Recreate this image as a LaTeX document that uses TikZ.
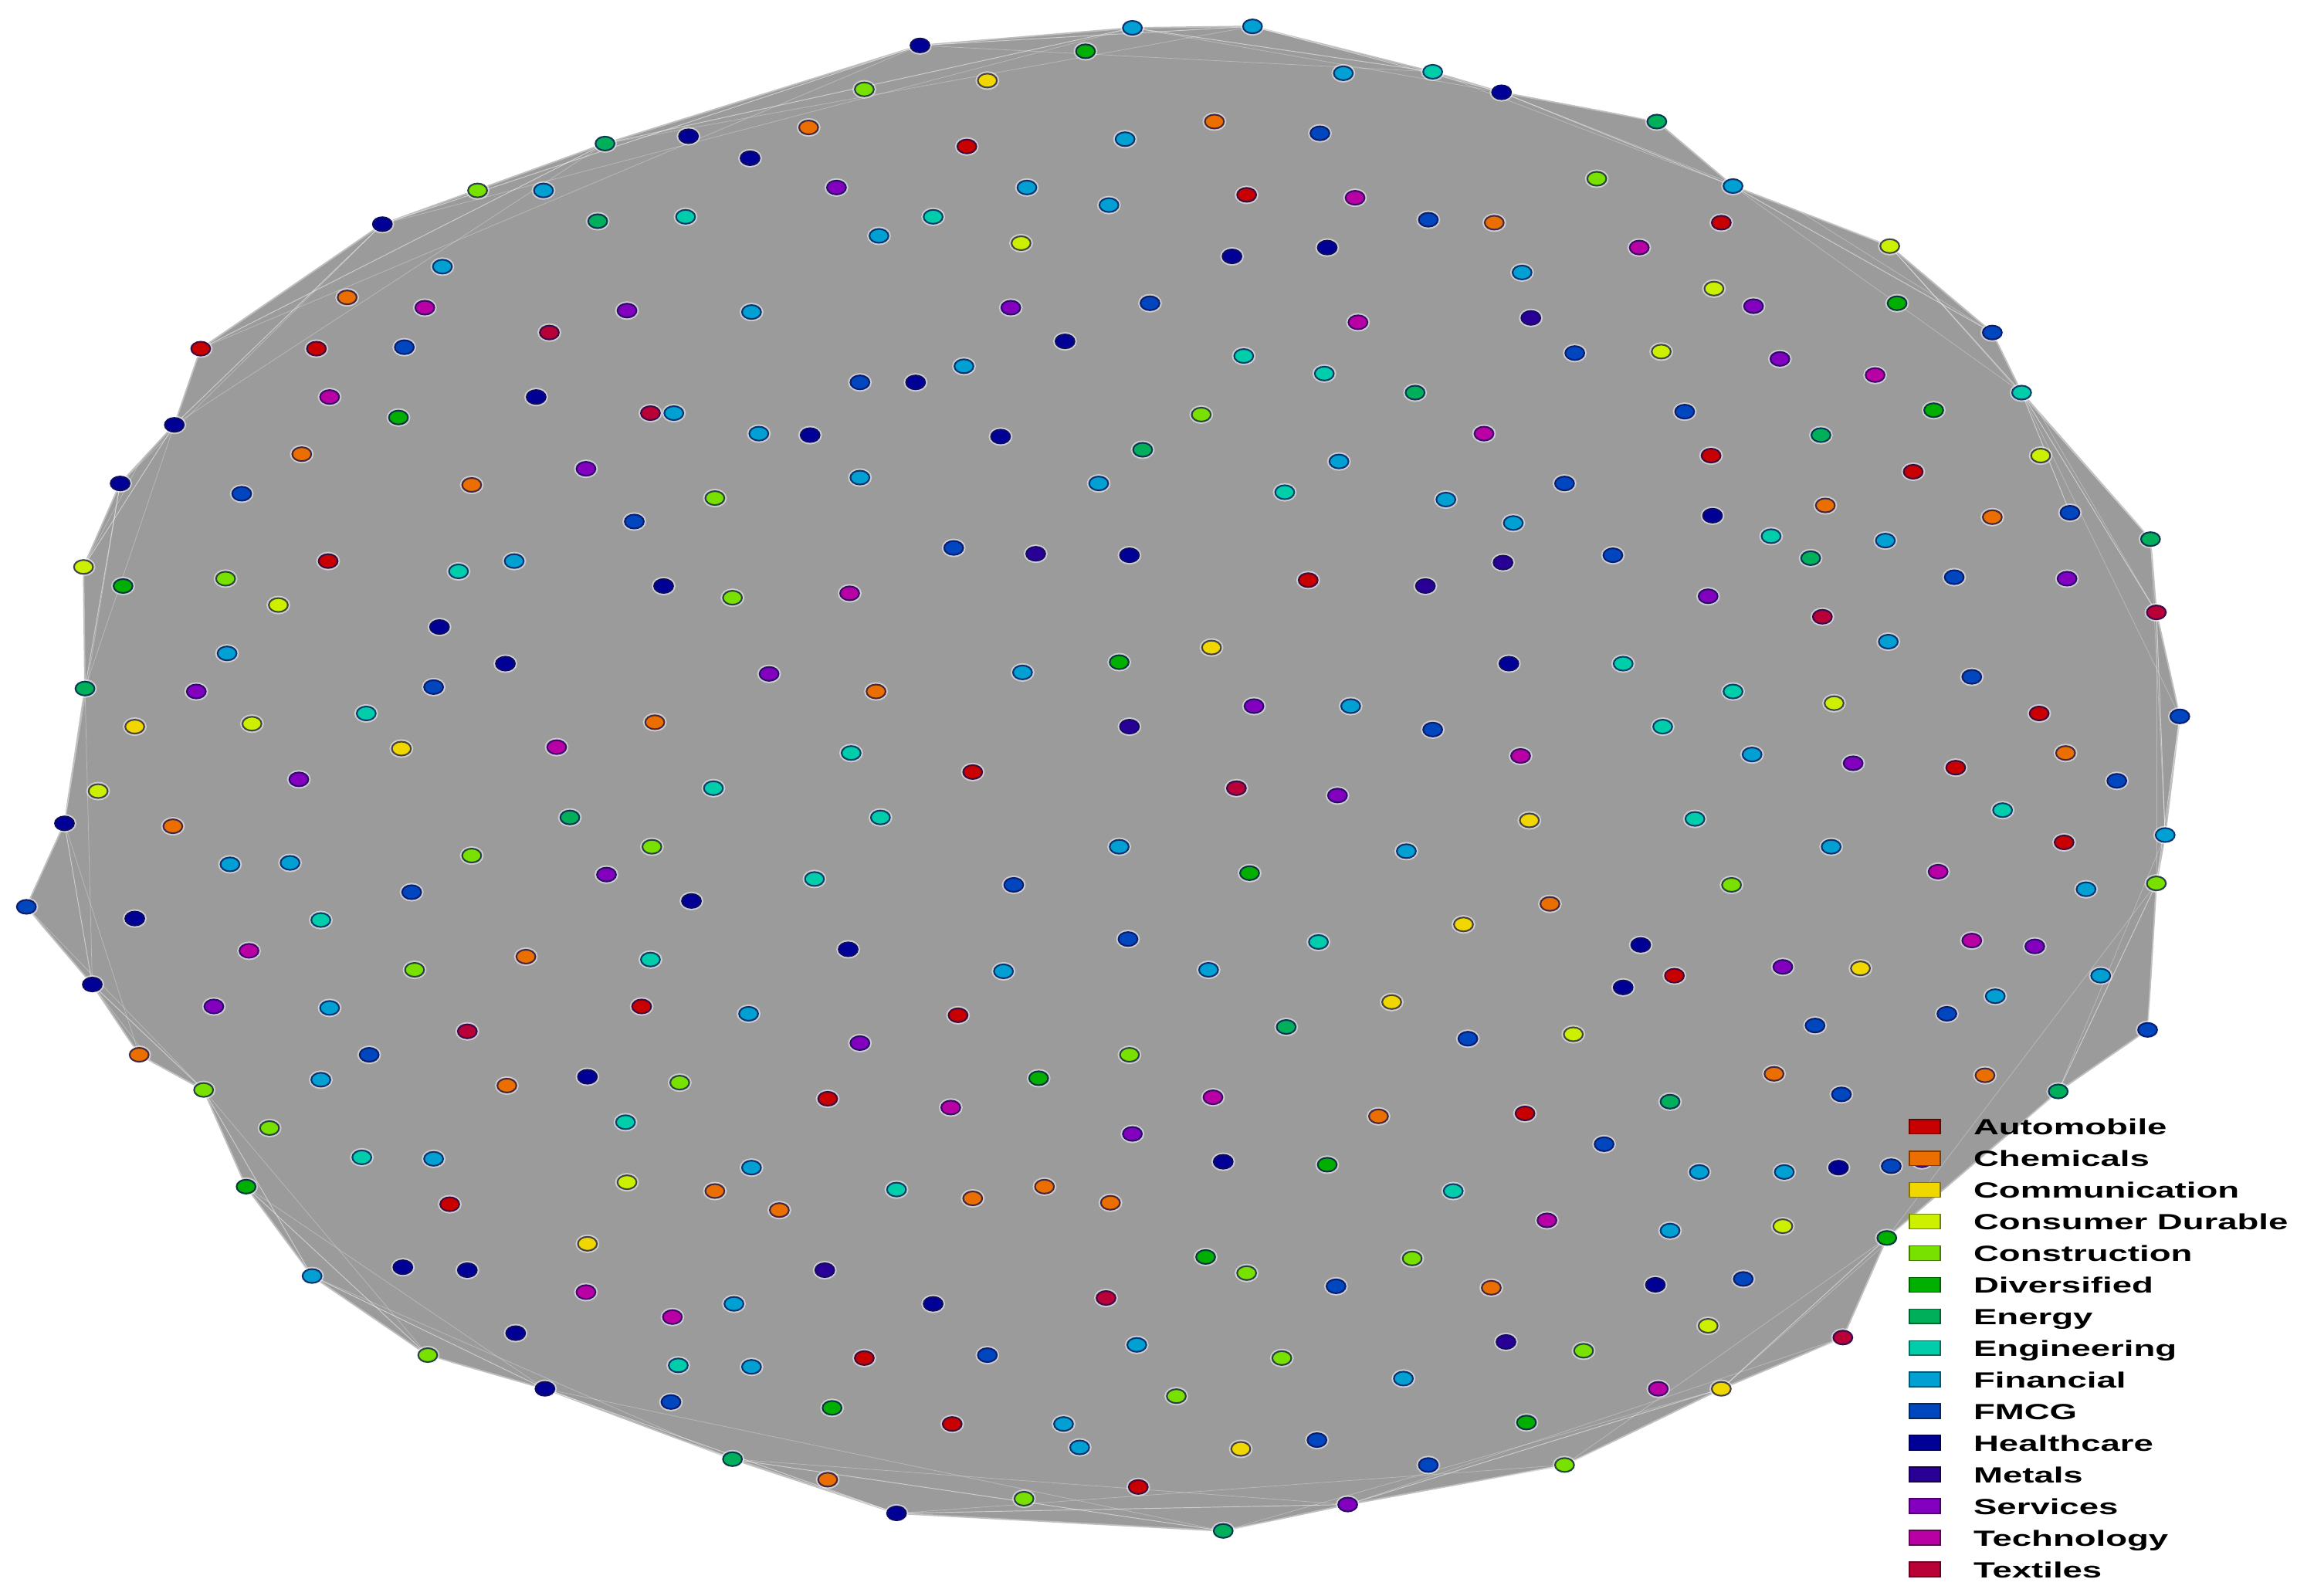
\documentclass[tikz,border=0pt]{standalone}
\usepackage{fontspec}
\usepackage{graphicx}
\setmainfont{Liberation Sans}
\usetikzlibrary{shapes.geometric,backgrounds}
\definecolor{cAut}{RGB}{200,0,0}
\definecolor{cChe}{RGB}{235,110,0}
\definecolor{cCom}{RGB}{240,215,0}
\definecolor{cCdu}{RGB}{205,240,0}
\definecolor{cCon}{RGB}{120,225,0}
\definecolor{cDiv}{RGB}{0,175,0}
\definecolor{cEne}{RGB}{0,175,90}
\definecolor{cEng}{RGB}{0,205,170}
\definecolor{cFin}{RGB}{0,160,210}
\definecolor{cFmc}{RGB}{0,70,190}
\definecolor{cHea}{RGB}{0,0,150}
\definecolor{cMet}{RGB}{40,0,150}
\definecolor{cSer}{RGB}{130,0,190}
\definecolor{cTec}{RGB}{185,0,165}
\definecolor{cTex}{RGB}{185,0,55}
\definecolor{netgray}{RGB}{155,155,155}
\definecolor{nodeedge}{RGB}{15,15,85}
\tikzset{
  nd/.style={ellipse, inner sep=0pt, minimum width=13pt, minimum height=9.5pt, line width=1.1pt,
     draw=nodeedge!75!#1, fill=#1, preaction={draw=white, draw opacity=0.5, line width=3.2pt}},
  nAut/.style={nd=cAut}, nChe/.style={nd=cChe}, nCom/.style={nd=cCom}, nCdu/.style={nd=cCdu},
  nCon/.style={nd=cCon}, nDiv/.style={nd=cDiv}, nEne/.style={nd=cEne}, nEng/.style={nd=cEng},
  nFin/.style={nd=cFin}, nFmc/.style={nd=cFmc}, nHea/.style={nd=cHea}, nMet/.style={nd=cMet},
  nSer/.style={nd=cSer}, nTec/.style={nd=cTec}, nTex/.style={nd=cTex},
  fan/.style={draw=white, draw opacity=0.5, line width=0.5pt},
  fanb/.style={draw=white, draw opacity=0.3, line width=0.4pt},
  lgsq/.style={rectangle, inner sep=0pt, minimum width=21pt, minimum height=10pt, line width=1pt, draw=#1!55!black, fill=#1},
  lgtx/.style={anchor=west, inner sep=0pt, text height=11pt, text depth=0pt, font=\fontsize{15}{15}\selectfont\bfseries}
}
\newcommand{\lgtext}[1]{\scalebox{1.6}[1]{#1}}
\begin{document}
\begin{tikzpicture}[x=1pt,y=-1pt]
\useasboundingbox (0,0) rectangle (1568,1089);
% hull nodes
\node[nHea] (h1) at (628,31) {};
\node[nFin] (h2) at (773,19) {};
\node[nFin] (h3) at (855,18) {};
\node[nEng] (h4) at (978,49) {};
\node[nHea] (h5) at (1025,63) {};
\node[nEne] (h6) at (1131,83) {};
\node[nFin] (h7) at (1183,127) {};
\node[nCdu] (h8) at (1290,168) {};
\node[nFmc] (h9) at (1360,227) {};
\node[nEng] (h10) at (1380,268) {};
\node[nFmc] (h11) at (1413,350) {};
\node[nEne] (h12) at (1468,368) {};
\node[nTex] (h13) at (1472,418) {};
\node[nFmc] (h14) at (1488,489) {};
\node[nFin] (h15) at (1478,570) {};
\node[nCon] (h16) at (1472,603) {};
\node[nFmc] (h17) at (1466,703) {};
\node[nEne] (h18) at (1405,745) {};
\node[nDiv] (h19) at (1288,845) {};
\node[nTex] (h20) at (1258,913) {};
\node[nCom] (h21) at (1175,948) {};
\node[nCon] (h22) at (1068,1000) {};
\node[nSer] (h23) at (920,1027) {};
\node[nEne] (h24) at (835,1045) {};
\node[nHea] (h25) at (612,1033) {};
\node[nEne] (h26) at (500,996) {};
\node[nHea] (h27) at (372,948) {};
\node[nCon] (h28) at (292,925) {};
\node[nFin] (h29) at (213,871) {};
\node[nDiv] (h30) at (168,810) {};
\node[nCon] (h31) at (139,744) {};
\node[nChe] (h32) at (95,720) {};
\node[nHea] (h33) at (63,672) {};
\node[nFmc] (h34) at (18,619) {};
\node[nHea] (h35) at (44,562) {};
\node[nEne] (h36) at (58,470) {};
\node[nCdu] (h37) at (57,387) {};
\node[nHea] (h38) at (82,330) {};
\node[nHea] (h39) at (119,290) {};
\node[nAut] (h40) at (137,238) {};
\node[nHea] (h41) at (261,153) {};
\node[nEne] (h42) at (413,98) {};
% interior nodes
\foreach \x/\y/\s [count=\i] in {
741/35/nDiv, 674/55/nCom, 590/61/nCon, 917/50/nFin,
829/83/nChe, 552/87/nChe, 470/93/nHea, 660/100/nAut, 768/95/nFin, 901/91/nFmc, 512/108/nHea,
1090/122/nCon, 571/128/nSer, 701/128/nFin, 851/133/nAut, 925/135/nTec, 326/130/nCon, 371/130/nFin, 757/140/nFin, 637/148/nEng, 468/148/nEng, 408/151/nEne, 975/150/nFmc, 1020/152/nChe, 1175/152/nAut, 600/161/nFin, 697/166/nCdu, 906/169/nHea, 841/175/nHea, 1119/169/nTec,
302/182/nFin, 1039/186/nFin, 237/203/nChe, 290/210/nTec, 428/212/nSer, 513/213/nFin, 690/210/nSer, 785/207/nFmc, 1170/197/nCdu, 1197/209/nSer, 1295/207/nDiv, 927/220/nTec, 1045/217/nMet, 727/233/nHea, 375/227/nTex, 216/238/nAut, 276/237/nFmc, 849/243/nEng, 1075/241/nFmc, 1134/240/nCdu, 658/250/nFin, 587/261/nFmc, 625/261/nHea, 1215/245/nSer, 904/255/nEng, 1280/256/nTec, 225/271/nTec, 366/271/nHea, 444/282/nTex, 460/282/nFin, 966/268/nEne, 272/285/nDiv, 820/283/nCon, 1150/281/nFmc, 1320/280/nDiv, 518/296/nFin, 553/297/nHea, 683/298/nHea, 1013/296/nTec, 1243/297/nEne, 780/307/nEne, 206/310/nChe, 914/315/nFin, 1168/311/nAut, 1393/311/nCdu, 1306/322/nAut, 400/320/nSer, 587/326/nFin, 322/331/nChe, 750/330/nFin, 1068/330/nFmc, 165/337/nFmc, 488/340/nCon, 877/336/nEng, 987/341/nFin, 1246/345/nChe, 1169/352/nHea, 1360/353/nChe, 433/356/nFmc, 1033/357/nFin,
651/374/nFmc, 707/378/nMet, 771/379/nHea, 1209/366/nEng, 1287/369/nFin, 1101/379/nFmc, 224/383/nAut, 351/383/nFin, 313/390/nEng, 1026/384/nMet, 1236/381/nEne, 893/396/nAut, 154/395/nCon, 1334/394/nFmc, 1411/395/nSer, 453/400/nHea, 973/400/nMet, 84/400/nDiv, 580/405/nTec, 500/408/nCon, 190/413/nCdu, 1166/407/nSer, 1244/421/nTex, 300/428/nHea, 1289/438/nFin,
827/442/nCom, 155/446/nFin, 345/453/nHea, 764/452/nDiv, 1030/453/nHea, 1108/453/nEng, 698/459/nFin, 525/460/nSer, 1346/462/nFmc, 134/472/nSer, 296/469/nFmc, 1183/472/nEng, 598/472/nChe, 1252/480/nCdu, 856/482/nSer, 922/482/nFin, 250/487/nEng, 1392/487/nAut, 92/496/nCom, 172/494/nCdu, 447/493/nChe, 771/496/nMet, 978/498/nFmc, 1135/496/nEng, 1410/514/nChe, 380/510/nTec, 274/511/nCom, 581/514/nEng, 1038/516/nTec, 1196/515/nFin, 1445/533/nFmc, 664/527/nAut, 1265/521/nSer, 1335/524/nAut, 204/532/nSer, 487/538/nEng, 844/538/nTex, 913/543/nSer, 67/540/nCdu, 1367/553/nEng, 389/558/nEne, 601/558/nEng, 1044/560/nCom, 1157/559/nEng, 118/564/nChe, 1409/575/nAut, 764/578/nFin, 1250/578/nFin, 445/578/nCon, 322/584/nCon, 157/590/nFin, 198/589/nFin, 960/581/nFin, 853/596/nDiv, 1323/595/nTec, 414/597/nSer, 556/600/nEng, 1182/604/nCon, 692/604/nFmc, 281/609/nFmc, 1424/607/nFin, 472/615/nHea, 1058/617/nChe, 92/627/nHea, 219/628/nEng, 999/631/nCom, 579/648/nHea, 770/641/nFmc, 900/643/nEng, 1120/645/nHea, 1346/642/nTec, 1389/646/nSer, 170/649/nTec, 359/653/nChe, 444/655/nEng, 1434/666/nFin, 685/663/nFin, 825/662/nFin, 1217/660/nSer, 1270/661/nCom, 283/662/nCon, 1143/666/nAut, 1108/674/nHea, 1362/680/nFin, 146/687/nSer, 225/688/nFin, 438/687/nAut, 511/692/nFin, 950/684/nCom, 1329/692/nFmc, 654/693/nAut, 878/701/nEne, 319/704/nTex, 1239/700/nFmc, 1074/706/nCdu, 1002/709/nFmc, 587/712/nSer, 771/720/nCon, 252/720/nFmc, 401/735/nHea, 709/736/nDiv, 219/737/nFin, 464/739/nCon, 1211/733/nChe, 1355/734/nChe, 346/741/nChe, 1257/747/nFmc, 828/749/nTec, 565/750/nAut, 649/756/nTec, 1140/752/nEne, 1041/760/nAut, 941/762/nChe, 184/770/nCon, 427/766/nEng, 773/774/nSer, 1095/781/nFmc, 247/790/nEng, 296/791/nFin, 835/793/nHea, 906/795/nDiv, 513/797/nFin, 1255/797/nHea, 1160/800/nFin, 1218/800/nFin, 428/807/nCdu, 612/812/nEng, 488/813/nChe, 664/818/nChe, 713/810/nChe, 992/813/nEng, 758/821/nChe, 307/822/nAut, 532/826/nChe, 1056/833/nTec, 1217/837/nCdu, 1140/840/nFin, 401/849/nCom, 823/858/nDiv, 964/859/nCon, 275/865/nHea, 319/867/nHea, 563/867/nMet, 851/869/nCon, 1130/877/nHea, 1190/873/nFmc, 400/882/nTec, 912/878/nFmc, 1018/879/nChe, 755/886/nTex, 637/890/nHea, 501/890/nFin, 459/899/nTec, 1166/905/nCdu, 352/910/nHea, 1028/916/nMet, 776/918/nFin, 1081/922/nCon, 590/927/nAut, 674/925/nFmc, 875/927/nCon, 463/932/nEng, 513/933/nFin, 958/941/nFin, 1132/948/nTec, 803/953/nCon, 458/957/nFmc, 568/961/nDiv, 899/983/nFmc, 650/972/nAut, 726/972/nFin, 1042/971/nDiv, 847/989/nCom, 737/988/nFin, 975/1000/nFmc, 565/1010/nChe, 777/1015/nAut, 699/1023/nCon, 1291/796/nFmc, 1312/792/nSer}
  \node[\s] (n\i) at (\x,\y) {};
% network body
\begin{scope}[on background layer]
\fill[white] (0,0) rectangle (1568,1089);
\filldraw[fill=netgray, draw=black!25, line width=1pt, line join=round]
  (h1.center) -- (h2.center) -- (h3.center) -- (h4.center) -- (h5.center) -- (h6.center) -- (h7.center)
  -- (h8.center) -- (h9.center) -- (h10.center) -- (h12.center) -- (h13.center) -- (h14.center)
  -- (h15.center) -- (h16.center) -- (h17.center) -- (h18.center) -- (h19.center) -- (h20.center) -- (h21.center)
  -- (h22.center) -- (h23.center) -- (h24.center) -- (h25.center) -- (h26.center) -- (h27.center) -- (h28.center)
  -- (h29.center) -- (h30.center) -- (h31.center) -- (h32.center) -- (h33.center) -- (h34.center) -- (h35.center)
  -- (h36.center) -- (h37.center) -- (h38.center) -- (h39.center) -- (h40.center) -- (h41.center) -- (h42.center) -- cycle;
\foreach \a/\b in {1/3,2/4,3/5,4/6,5/7,6/8,7/9,8/10,9/12,10/13,10/11,12/14,13/15,14/16,15/17,16/18,17/19,18/20,19/21,20/22,21/23,22/24,23/25,24/26,25/27,26/28,27/29,28/30,29/31,30/32,31/33,32/34,33/35,34/36,35/37,36/38,37/39,38/40,39/41,40/42,41/1,42/2}
  \draw[fan] (h\a.center) -- (h\b.center);
\foreach \a/\b in {1/4,2/5,3/6,4/7,5/8,6/9,7/10,8/12,9/13,10/14,12/15,13/16,14/17,15/18,16/19,17/20,18/21,19/22,20/23,21/24,22/25,23/26,24/27,25/28,26/29,27/30,28/31,29/32,30/33,31/34,32/35,33/36,34/37,35/38,36/39,37/40,38/41,39/42,40/1,41/2,42/3}
  \draw[fanb] (h\a.center) -- (h\b.center);
\end{scope}
% legend
\foreach \c/\t [count=\k] in {cAut/Automobile, cChe/Chemicals, cCom/Communication, cCdu/Consumer Durable, cCon/Construction, cDiv/Diversified, cEne/Energy, cEng/Engineering, cFin/Financial, cFmc/FMCG, cHea/Healthcare, cMet/Metals, cSer/Services, cTec/Technology, cTex/Textiles}
{
  \node[lgsq=\c] (lsq\k) at (1314,{769+21.6*(\k-1)}) {};
  \node[lgtx] (ltx\k) at (1347,{769+21.6*(\k-1)}) {\lgtext{\t}};
}
\end{tikzpicture}
\end{document}
